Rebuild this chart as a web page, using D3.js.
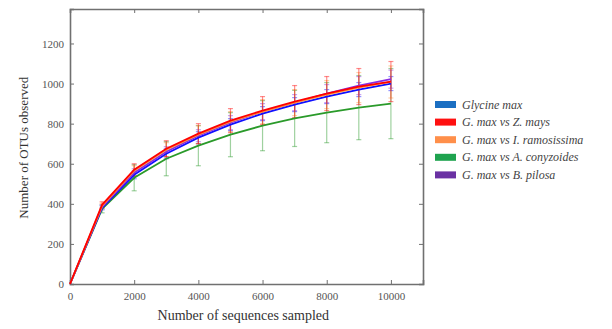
<!DOCTYPE html>
<html>
<head>
<meta charset="utf-8">
<script src="https://cdnjs.cloudflare.com/ajax/libs/d3/7.8.5/d3.min.js"></script>
<style>
  body { margin: 0; background: #fff; }
  svg text { font-family: "Liberation Serif", "DejaVu Serif", serif; }
</style>
</head>
<body>
<div id="chart"></div>
<script>
// sequences sampled (x)
var depths = [0, 1000, 2000, 3000, 4000, 5000, 6000, 7000, 8000, 9000, 10000];

// OTUs observed per series
var glycine   = [0, 380, 545, 650, 730, 795, 850, 895, 935, 970, 1000];
var zmays     = [0, 395, 570, 675, 750, 815, 865, 910, 950, 985, 1010];
var iramo     = [0, 390, 565, 670, 745, 810, 860, 905, 945, 980, 1008];
var aconyz    = [0, 375, 530, 625, 690, 745, 790, 826, 855, 880, 900];
var bpilosa   = [0, 385, 555, 660, 740, 805, 860, 905, 950, 990, 1022];

// error bar half widths
var glycineErr = [0, 10, 20, 25, 30, 30, 35, 35, 35, 35, 35];
var zmaysErr   = [0, 15, 30, 40, 50, 60, 70, 80, 85, 90, 100];
var iramoErr   = [0, 12, 25, 35, 45, 50, 60, 65, 70, 75, 80];
var aconyzErr  = [0, 20, 65, 85, 100, 110, 125, 140, 150, 160, 175];
var bpilosaErr = [0, 10, 20, 25, 30, 35, 40, 40, 45, 45, 45];

var xTicks = [0, 2000, 4000, 6000, 8000, 10000];
var yTicks = [0, 200, 400, 600, 800, 1000, 1200];

var names = ["Glycine max", "G. max vs Z. mays", "G. max vs I. ramosissima",
             "G. max vs A. conyzoides", "G. max vs B. pilosa"];
var legendColors = ["#1b6fc2", "#ff1010", "#ff8f4a", "#1fa34f", "#6a31a3"];
var lineColors   = ["#1010ff", "#ff0000", "#ff9a40", "#2a9a2a", "#8a2be2"];

var series = [
  { name: names[0], values: glycine, err: glycineErr, color: lineColors[0] },
  { name: names[1], values: zmays,   err: zmaysErr,   color: lineColors[1] },
  { name: names[2], values: iramo,   err: iramoErr,   color: lineColors[2] },
  { name: names[3], values: aconyz,  err: aconyzErr,  color: lineColors[3] },
  { name: names[4], values: bpilosa, err: bpilosaErr, color: lineColors[4] }
];
// draw order: green first, then blue, purple, orange, red on top
var drawOrder = [3, 0, 4, 2, 1];

var margin = { top: 9, right: 189, bottom: 45, left: 70 },
    width = 612 - margin.left - margin.right,
    height = 329 - margin.top - margin.bottom;

var svg = d3.select("#chart")
    .append("svg")
    .attr("width", 612)
    .attr("height", 329)
    .append("g")
    .attr("transform", "translate(" + margin.left + "," + margin.top + ")");

var x = d3.scaleLinear().domain([0, 11000]).range([0, width]);
var y = d3.scaleLinear().domain([0, 1372]).range([height, 0]);

var axisColor = "#707070";

// axes (ticks inward, matplotlib classic look)
var gx = svg.append("g")
    .attr("transform", "translate(0," + height + ")")
    .call(d3.axisBottom(x).tickValues(xTicks).tickSize(-4).tickPadding(8).tickFormat(d3.format("d")));
var gxTop = svg.append("g")
    .call(d3.axisTop(x).tickValues(xTicks).tickSize(-4).tickFormat(""));
var gy = svg.append("g")
    .call(d3.axisLeft(y).tickValues(yTicks).tickSize(-4).tickPadding(6).tickFormat(d3.format("d")));
var gyRight = svg.append("g")
    .attr("transform", "translate(" + width + ",0)")
    .call(d3.axisRight(y).tickValues(yTicks).tickSize(-4).tickFormat(""));

[gx, gxTop, gy, gyRight].forEach(function (g) {
    g.attr("font-family", null);
    g.select(".domain").attr("stroke", axisColor).attr("stroke-width", 1.6);
    g.selectAll(".tick line").attr("stroke", axisColor).attr("stroke-width", 1);
    g.selectAll(".tick text").attr("fill", "#555").style("font-size", "11px");
});

// error bars
drawOrder.forEach(function (si) {
    var s = series[si];
    var pts = depths.map(function (d, i) { return { x: d, v: s.values[i], e: s.err[i] }; })
        .filter(function (p) { return p.e > 0; });
    var g = svg.append("g").attr("stroke", s.color).attr("stroke-opacity", 0.45).attr("stroke-width", 1.2);
    g.selectAll("line.bar").data(pts).enter().append("line")
        .attr("x1", function (p) { return x(p.x); })
        .attr("x2", function (p) { return x(p.x); })
        .attr("y1", function (p) { return y(p.v - p.e); })
        .attr("y2", function (p) { return y(p.v + p.e); });
    g.selectAll("line.capTop").data(pts).enter().append("line")
        .attr("x1", function (p) { return x(p.x) - 2.5; })
        .attr("x2", function (p) { return x(p.x) + 2.5; })
        .attr("y1", function (p) { return y(p.v + p.e); })
        .attr("y2", function (p) { return y(p.v + p.e); });
    g.selectAll("line.capBot").data(pts).enter().append("line")
        .attr("x1", function (p) { return x(p.x) - 2.5; })
        .attr("x2", function (p) { return x(p.x) + 2.5; })
        .attr("y1", function (p) { return y(p.v - p.e); })
        .attr("y2", function (p) { return y(p.v - p.e); });
});

// lines
var line = d3.line()
    .x(function (d, i) { return x(depths[i]); })
    .y(function (d) { return y(d); });

drawOrder.forEach(function (si) {
    var s = series[si];
    svg.append("path")
        .datum(s.values)
        .attr("fill", "none")
        .attr("stroke", s.color)
        .attr("stroke-width", 1.8)
        .attr("d", line);
});

// axis titles
svg.append("text")
    .attr("x", x(5400))
    .attr("y", height + 36)
    .attr("text-anchor", "middle")
    .style("font-size", "14px")
    .attr("fill", "#333")
    .text("Number of sequences  sampled");

svg.append("text")
    .attr("transform", "translate(" + (-42) + "," + (y(680)) + ") rotate(-90)")
    .attr("text-anchor", "middle")
    .style("font-size", "13px")
    .attr("fill", "#333")
    .text("Number of OTUs observed");

// legend
var legend = d3.select("svg").append("g")
    .attr("transform", "translate(435,101)");

var rows = legend.selectAll("g").data(names).enter().append("g")
    .attr("transform", function (d, i) { return "translate(0," + (i * 17.6) + ")"; });

rows.append("rect")
    .attr("width", 21).attr("height", 7).attr("y", 0)
    .attr("fill", function (d, i) { return legendColors[i]; });

rows.append("text")
    .attr("x", 27).attr("y", 7.5)
    .style("font-style", "italic")
    .style("font-size", "12px")
    .attr("fill", "#444")
    .text(function (d) { return d; });
</script>
</body>
</html>
